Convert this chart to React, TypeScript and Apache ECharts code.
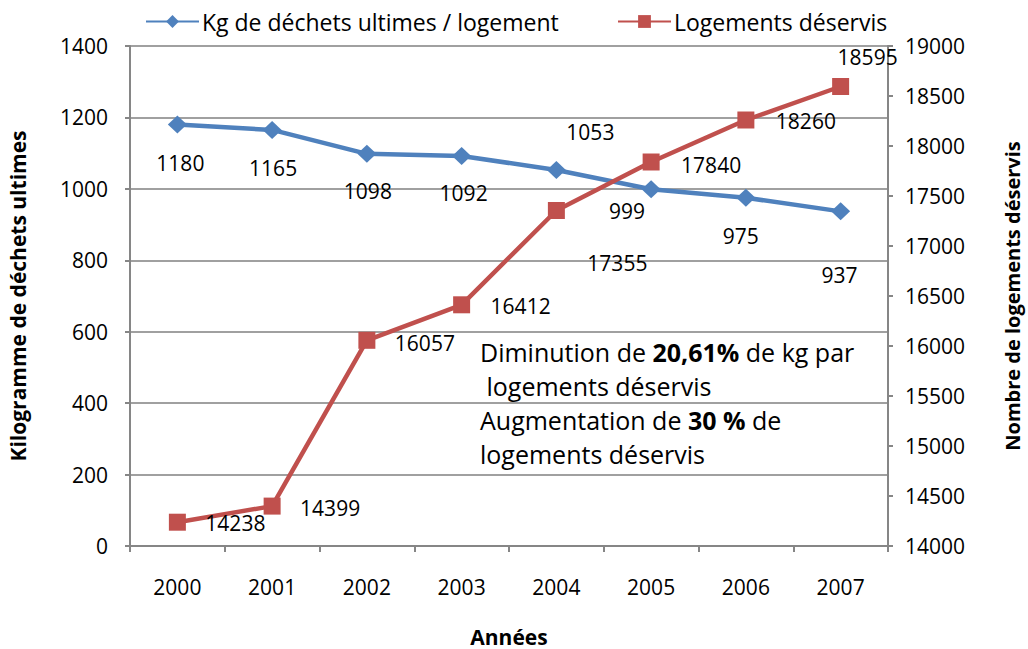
import React, { useEffect, useRef } from "react";
import * as echarts from "echarts";

const years = ["2000", "2001", "2002", "2003", "2004", "2005", "2006", "2007"];
const kgPerHousing = [1180, 1165, 1098, 1092, 1053, 999, 975, 937];
const housingServed = [14238, 14399, 16057, 16412, 17355, 17840, 18260, 18595];
const kgLabelOffsets = [[3, 38], [1, 38], [1, 37], [2, 37], [34, -38], [-24, 22], [-5, 38], [-1, 64]];
const housingLabelOffsets = [[58, 1], [58, 2], [58, 3], [59, 1], [61, 52], [60, 3], [60, 1], [27, -30]];

const SERIES_KG = "Kg de déchets ultimes / logement";
const SERIES_HOUSING = "Logements déservis";

const FONT = "'Open Sans', Lato, sans-serif";
const BLUE = "#4F81BD";
const RED = "#C0504D";
const AXIS = "#868686";
const GRID = "#A0A0A0";
const FS = 21;

export default function App() {
  const ref = useRef<HTMLDivElement>(null);
  useEffect(() => {
    if (!ref.current) return;
    const chart = echarts.init(ref.current, null, { renderer: "svg" });
    const labelStyle = { show: true, position: "inside", color: "#000", fontSize: FS, fontFamily: FONT };
    const plain = (v: number) => String(v);
    const legendCommon = {
      top: 5,
      itemWidth: 53,
      itemHeight: 16,
      textStyle: { fontSize: 23, color: "#000", fontFamily: FONT, padding: [0, 0, 0, -2] },
    };
    const titleStyle = { fontSize: 21, fontWeight: "bold", color: "#000", fontFamily: FONT };
    chart.setOption({
      animation: false,
      backgroundColor: "#fff",
      textStyle: { fontFamily: FONT },
      legend: [
        { ...legendCommon, left: 140, data: [SERIES_KG] },
        { ...legendCommon, left: 612, data: [SERIES_HOUSING] },
      ],
      grid: { left: 130, right: 140, top: 46, bottom: 103, outerBoundsMode: "none", containLabel: false },
      xAxis: {
        type: "category",
        data: years,
        boundaryGap: true,
        name: "Années",
        nameLocation: "middle",
        nameGap: 80,
        nameTextStyle: titleStyle,
        axisLine: { lineStyle: { color: AXIS, width: 2 } },
        axisTick: { show: true, length: 6, lineStyle: { color: AXIS, width: 2 } },
        axisLabel: { fontSize: FS, color: "#000", margin: 30, fontFamily: FONT },
      },
      yAxis: [
        {
          type: "value",
          min: 0,
          max: 1400,
          interval: 200,
          name: "Kilogramme de déchets ultimes",
          nameLocation: "middle",
          nameGap: 102,
          nameRotate: 90,
          nameTextStyle: titleStyle,
          axisLine: { show: true, lineStyle: { color: AXIS, width: 2 } },
          axisTick: { show: true, length: 5, lineStyle: { color: AXIS, width: 2 } },
          axisLabel: { fontSize: FS, color: "#000", margin: 22, fontFamily: FONT, formatter: plain },
          splitLine: { show: true, lineStyle: { color: GRID, width: 2 } },
        },
        {
          type: "value",
          min: 14000,
          max: 19000,
          interval: 500,
          position: "right",
          name: "Nombre de logements déservis",
          nameLocation: "middle",
          nameGap: 114,
          nameRotate: 90,
          nameTextStyle: { ...titleStyle, fontSize: 20 },
          axisLine: { show: true, lineStyle: { color: AXIS, width: 2 } },
          axisTick: { show: true, length: 5, lineStyle: { color: AXIS, width: 2 } },
          axisLabel: { fontSize: FS, color: "#000", margin: 17, fontFamily: FONT, formatter: plain },
          splitLine: { show: false },
        },
      ],
      series: [
        {
          name: SERIES_KG,
          type: "line",
          yAxisIndex: 0,
          symbol: "diamond",
          symbolSize: [19, 18],
          lineStyle: { color: BLUE, width: 4.5 },
          itemStyle: { color: BLUE },
          label: labelStyle,
          data: kgPerHousing.map((v, i) => ({ value: v, label: { offset: kgLabelOffsets[i] } })),
        },
        {
          name: SERIES_HOUSING,
          type: "line",
          yAxisIndex: 1,
          symbol: "rect",
          symbolSize: 17,
          lineStyle: { color: RED, width: 4.5 },
          itemStyle: { color: RED },
          label: labelStyle,
          data: housingServed.map((v, i) => ({ value: v, label: { offset: housingLabelOffsets[i] } })),
        },
      ],
      graphic: [
        {
          type: "text",
          left: 480,
          top: 335,
          z: 10,
          style: {
            text: "Diminution de {b|20,61%} de kg par\n logements déservis\nAugmentation de {b|30 %} de\nlogements déservis",
            fontSize: 25,
            fontFamily: FONT,
            lineHeight: 34,
            fill: "#000",
            rich: {
              b: { fontSize: 25, fontFamily: FONT, fontWeight: "bold", lineHeight: 34, fill: "#000" },
            },
          },
        },
      ],
    });
    return () => chart.dispose();
  }, []);
  return <div ref={ref} style={{ position: "fixed", left: 0, top: 0, width: 1028, height: 649 }} />;
}
